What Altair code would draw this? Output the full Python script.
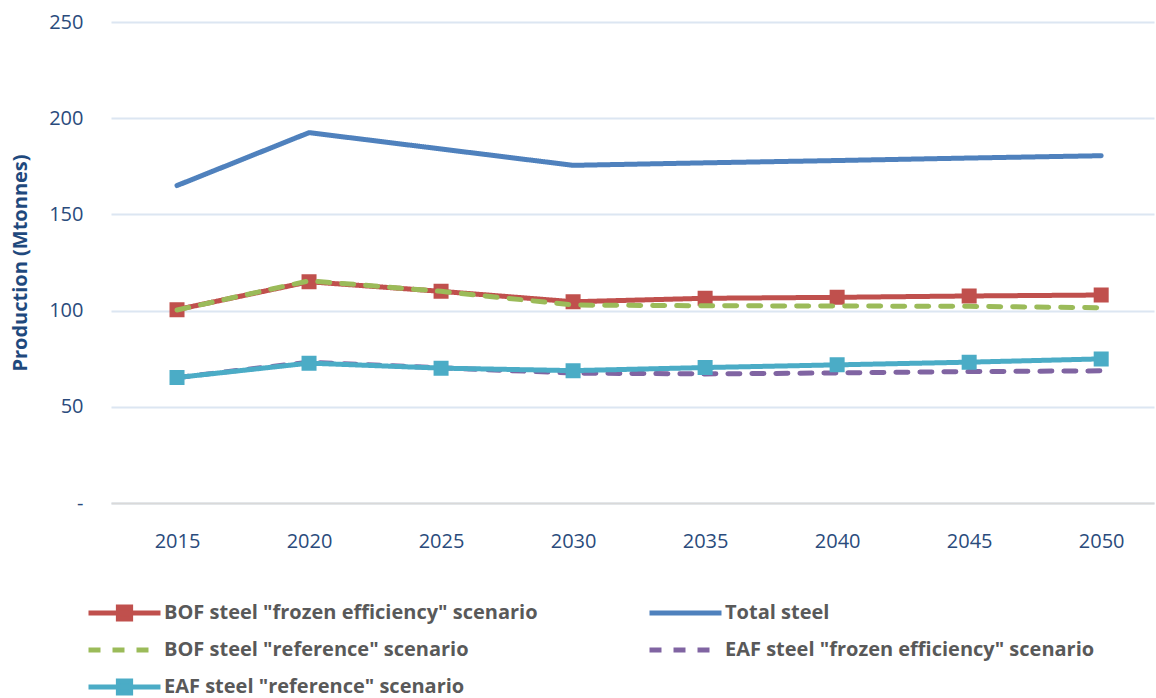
import altair as alt
import pandas as pd

# Steel production outlook, Mtonnes
years = [2015, 2020, 2025, 2030, 2035, 2040, 2045, 2050]
total_steel = [165.0, 192.5, 184.0, 175.5, 176.8, 178.0, 179.3, 180.5]
bof_frozen = [100.5, 115.0, 110.0, 104.6, 106.4, 106.9, 107.6, 108.1]
bof_reference = [100.3, 115.5, 110.0, 102.9, 102.5, 102.4, 102.2, 101.5]
eaf_frozen = [65.2, 73.2, 70.3, 67.5, 67.1, 67.6, 68.3, 68.7]
eaf_reference = [65.2, 72.7, 70.1, 68.8, 70.4, 71.8, 73.2, 74.9]

S_TOTAL = "Total steel"
S_BOF_FROZEN = 'BOF steel "frozen efficiency" scenario'
S_BOF_REF = 'BOF steel "reference" scenario'
S_EAF_FROZEN = 'EAF steel "frozen efficiency" scenario'
S_EAF_REF = 'EAF steel "reference" scenario'

# legend order (filled column by column, two columns)
legend_order = [S_BOF_FROZEN, S_BOF_REF, S_EAF_REF, S_TOTAL, S_EAF_FROZEN]
legend_colors = ["#C0504D", "#9BBB59", "#4BACC6", "#4F81BD", "#8064A2"]
SOLID = [1, 0]
DASH = [12, 12]
legend_dashes = [SOLID, DASH, SOLID, SOLID, DASH]

# a horizontal stroke (only visible when stroked) plus a square marker
LINE_PATH = "M-1,0H1"
MARKER_PATH = "M-1,0H1M-0.17,-0.17H0.17V0.17H-0.17Z"
legend_shapes = [MARKER_PATH, LINE_PATH, MARKER_PATH, LINE_PATH, LINE_PATH]

series = [
    (S_TOTAL, total_steel),
    (S_BOF_FROZEN, bof_frozen),
    (S_BOF_REF, bof_reference),
    (S_EAF_FROZEN, eaf_frozen),
    (S_EAF_REF, eaf_reference),
]
rows = []
for name, vals in series:
    for y, v in zip(years, vals):
        rows.append({"year": y, "value": v, "series": name})
df = pd.DataFrame(rows)

FONT = "Open Sans"
AXIS_TEXT = "#2A4B7C"

legend = alt.Legend(
    title=None,
    orient="none",
    legendX=-25,
    legendY=581,
    columns=2,
    columnPadding=109,
    rowPadding=17,
    clipHeight=20,
    symbolSize=5184,
    symbolStrokeWidth=5,
    labelOffset=1,
    labelFont=FONT,
    labelFontSize=20,
    labelFontWeight="bold",
    labelColor="#595959",
    labelLimit=600,
)

color = alt.Color(
    "series:N",
    scale=alt.Scale(domain=legend_order, range=legend_colors),
    legend=legend,
)
dash = alt.StrokeDash(
    "series:N",
    scale=alt.Scale(domain=legend_order, range=legend_dashes),
    legend=legend,
)
shape = alt.Shape(
    "series:N",
    scale=alt.Scale(domain=legend_order, range=legend_shapes),
    legend=legend,
)

x = alt.X(
    "year:Q",
    scale=alt.Scale(domain=[2012.5, 2052.0], nice=False, zero=False),
    axis=alt.Axis(
        values=years,
        format="d",
        title=None,
        grid=False,
        ticks=False,
        tickSize=0,
        labelPadding=28,
        labelFont=FONT,
        labelFontSize=20,
        labelColor=AXIS_TEXT,
        domainColor="#D9D9D9",
        domainWidth=2,
        zindex=1,
    ),
)

y = alt.Y(
    "value:Q",
    scale=alt.Scale(domain=[0, 250], nice=False),
    axis=alt.Axis(
        values=[0, 50, 100, 150, 200, 250],
        labelExpr="datum.value == 0 ? '-\u2007' : datum.label",
        title="Production (Mtonnes)",
        titleFont=FONT,
        titleFontSize=20,
        titleFontWeight="bold",
        titleColor="#1F497D",
        titlePadding=18,
        ticks=False,
        tickSize=0,
        labelPadding=28,
        labelFont=FONT,
        labelFontSize=20,
        labelColor=AXIS_TEXT,
        domain=False,
        gridColor="#DCE6F2",
        gridWidth=2,
    ),
)


def lines_for(names):
    return (
        alt.Chart(df)
        .transform_filter(alt.FieldOneOfPredicate(field="series", oneOf=names))
        .mark_line(strokeWidth=5, strokeCap="round", strokeJoin="round")
        .encode(x=x, y=y, color=color, strokeDash=dash)
    )


def markers_for(names):
    # filled, unstroked: only the square part of the shape path shows
    return (
        alt.Chart(df)
        .transform_filter(alt.FieldOneOfPredicate(field="series", oneOf=names))
        .mark_point(filled=True, size=7785, opacity=1)
        .encode(x=x, y=y, color=color, shape=shape)
    )


chart = (
    alt.layer(
        lines_for([S_TOTAL, S_BOF_FROZEN]),
        markers_for([S_BOF_FROZEN]),
        lines_for([S_BOF_REF, S_EAF_FROZEN, S_EAF_REF]),
        markers_for([S_EAF_REF]),
    )
    .properties(
        width=1043,
        height=481,
        padding={"left": 111, "top": 22, "right": 2, "bottom": 195},
        autosize=alt.AutoSizeParams(type="none"),
        background="white",
    )
    .configure_view(stroke=None)
)

chart.save("out.html", embed_options={"renderer": "svg", "actions": False})
